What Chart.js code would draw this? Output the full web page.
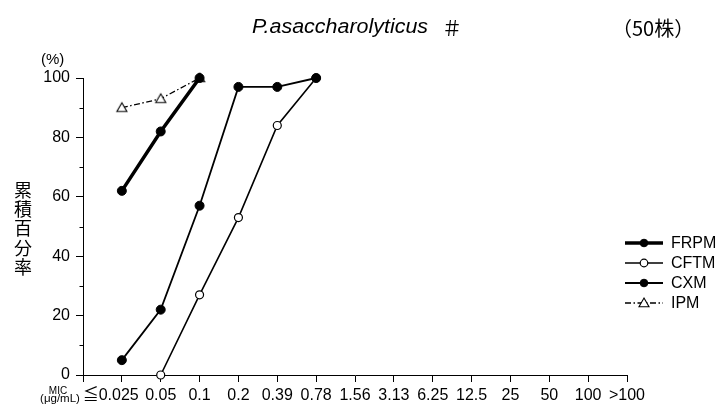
<!DOCTYPE html>
<html>
<head>
<meta charset="utf-8">
<script src="https://cdn.jsdelivr.net/npm/chart.js@4"></script>
<style>
  html, body { margin: 0; padding: 0; background: #fff; }
  #wrap { width: 723px; height: 406px; position: relative; }
</style>
</head>
<body>
<div id="wrap"><canvas id="mic"></canvas></div>
<script>
// MIC categories (µg/mL); trailing spaces keep the number part of the first label on its tick
const micLabels = ['≦0.025     ', '0.05', '0.1', '0.2', '0.39', '0.78', '1.56', '3.13', '6.25', '12.5', '25', '50', '100', '>100'];

// cumulative % per category (null = not plotted)
const frpm = [62, 82, 100, null, null, null, null, null, null, null, null, null, null, null];
const cftm = [null, 0, 27, 53, 84, 100, null, null, null, null, null, null, null, null];
const cxm  = [5, 22, 57, 97, 97, 100, null, null, null, null, null, null, null, null];
const ipm  = [90, 93, 100, null, null, null, null, null, null, null, null, null, null, null];

const yMajor = [0, 20, 40, 60, 80, 100];
const yMinor = [10, 30, 50, 70, 90];

const FONT = '"Liberation Sans", Arial, Helvetica, sans-serif';
const CJK = '"Noto Sans CJK JP", sans-serif';

const toPoints = arr => arr.map((v, i) => (v === null ? null : { x: i, y: v })).filter(p => p);

// open triangle marker
function triangle(size) {
  const c = document.createElement('canvas');
  c.width = size * 2 + 4; c.height = size * 2 + 4;
  const g = c.getContext('2d');
  const cx = c.width / 2, cy = c.height / 2;
  g.beginPath();
  g.moveTo(cx, cy - size);
  g.lineTo(cx + size, cy + size * 0.75);
  g.lineTo(cx - size, cy + size * 0.75);
  g.closePath();
  g.fillStyle = '#fff';
  g.fill();
  g.lineWidth = 1.1;
  g.strokeStyle = '#000';
  g.stroke();
  return c;
}
const triMark = triangle(5);

// lower order is drawn on top
const datasets = [
  {
    label: 'FRPM', data: toPoints(frpm), order: 0,
    borderColor: '#000', borderWidth: 3.5,
    pointRadius: 4.5, pointBackgroundColor: '#000', pointBorderColor: '#000', pointBorderWidth: 1
  },
  {
    label: 'CFTM', data: toPoints(cftm), order: 2,
    borderColor: '#000', borderWidth: 1.6,
    pointRadius: 4, pointBackgroundColor: '#fff', pointBorderColor: '#000', pointBorderWidth: 1.2
  },
  {
    label: 'CXM', data: toPoints(cxm), order: 1,
    borderColor: '#000', borderWidth: 1.8,
    pointRadius: 4.5, pointBackgroundColor: '#000', pointBorderColor: '#000', pointBorderWidth: 1
  },
  {
    label: 'IPM', data: toPoints(ipm), order: 3,
    borderColor: '#000', borderWidth: 1.3, borderDash: [6, 2.5, 1.5, 2.5],
    pointStyle: triMark, pointRadius: 5
  }
];

// titles, axis captions, minor ticks and legend
const decor = {
  id: 'decor',
  afterDraw(chart) {
    const ctx = chart.ctx;
    const y = chart.scales.y;
    const left = chart.chartArea.left;

    ctx.save();
    ctx.strokeStyle = '#000';
    ctx.lineWidth = 1;
    yMinor.forEach(v => {
      const py = Math.round(y.getPixelForValue(v)) + 0.5;
      ctx.beginPath();
      ctx.moveTo(left - 3.5, py);
      ctx.lineTo(left, py);
      ctx.stroke();
    });

    ctx.fillStyle = '#000';
    ctx.textBaseline = 'middle';

    // title (slightly widened italic)
    ctx.textAlign = 'left';
    ctx.save();
    ctx.translate(252, 28);
    ctx.scale(1.1, 1);
    ctx.font = 'italic 19.5px ' + FONT;
    ctx.fillText('P.asaccharolyticus', 0, 0);
    ctx.restore();
    ctx.font = '20px ' + CJK;
    ctx.fillText('＃', 442, 28);
    ctx.font = '20px ' + CJK;
    ctx.fillText('（50株）', 612, 28);

    // units
    ctx.font = '15px ' + FONT;
    ctx.fillText('(%)', 41, 60);

    // vertical y caption
    ctx.textAlign = 'center';
    ctx.font = '18px ' + CJK;
    const chars = ['累', '積', '百', '分', '率'];
    chars.forEach((ch, i) => ctx.fillText(ch, 23, 190 + i * 19.3));

    // MIC unit caption
    ctx.font = '10px ' + FONT;
    ctx.fillText('MIC', 58, 391);
    ctx.font = '11.5px ' + FONT;
    ctx.fillText('(μg/mL)', 60, 399);

    // legend: line + marker samples
    chart.data.datasets.forEach((ds, i) => {
      const ly = 243 + i * 20;
      const x0 = 625, x1 = 663, xm = 644;
      ctx.beginPath();
      ctx.setLineDash(ds.borderDash || []);
      ctx.lineWidth = ds.borderWidth;
      ctx.strokeStyle = ds.borderColor;
      ctx.moveTo(x0, ly);
      ctx.lineTo(x1, ly);
      ctx.stroke();
      ctx.setLineDash([]);
      if (ds.pointStyle && typeof ds.pointStyle === 'object') {
        ctx.drawImage(ds.pointStyle, xm - ds.pointStyle.width / 2, ly - ds.pointStyle.height / 2);
      } else {
        ctx.beginPath();
        ctx.arc(xm, ly, 3.8, 0, Math.PI * 2);
        ctx.fillStyle = ds.pointBackgroundColor;
        ctx.fill();
        ctx.lineWidth = ds.pointBorderWidth;
        ctx.strokeStyle = ds.pointBorderColor;
        ctx.stroke();
      }
      ctx.fillStyle = '#000';
      ctx.textAlign = 'left';
      ctx.font = '16px ' + FONT;
      ctx.fillText(ds.label, 671, ly + 1);
    });
    ctx.restore();
  }
};

new Chart(document.getElementById('mic'), {
  type: 'line',
  data: { datasets },
  options: {
    responsive: true,
    maintainAspectRatio: false,
    animation: false,
    layout: { padding: { top: 78, right: 96, left: 0, bottom: 0 } },
    plugins: { legend: { display: false }, tooltip: { enabled: false } },
    elements: { line: { tension: 0 } },
    datasets: { line: { clip: false } },
    scales: {
      x: {
        type: 'linear', min: -1, max: 13,
        afterBuildTicks: s => { s.ticks = micLabels.map((_, i) => ({ value: i - 1 })).concat([{ value: 13 }]); },
        afterFit: s => { s.height = 31; },
        grid: { drawOnChartArea: false, tickLength: 7, color: '#000' },
        border: { color: '#000', width: 1 },
        ticks: {
          color: '#000', font: { family: '"Liberation Sans", Arial, "Noto Sans CJK JP", sans-serif', size: 16 },
          padding: 4, maxRotation: 0, autoSkip: false,
          callback: v => (v >= 0 ? micLabels[v] : '')
        }
      },
      y: {
        min: 0, max: 100,
        afterBuildTicks: s => { s.ticks = yMajor.map(v => ({ value: v })); },
        afterFit: s => { s.width = 83; },
        grid: { drawOnChartArea: false, tickLength: 7, color: '#000' },
        border: { color: '#000', width: 1 },
        ticks: { color: '#000', font: { family: FONT, size: 16 }, padding: 6 }
      }
    }
  },
  plugins: [decor]
});
</script>
</body>
</html>
